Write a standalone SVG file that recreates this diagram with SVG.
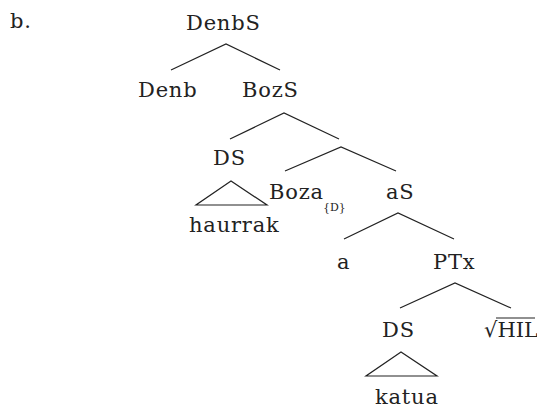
<svg xmlns="http://www.w3.org/2000/svg" width="537" height="404" viewBox="0 0 537 404">
<style>
text{font-family:"DejaVu Serif","Liberation Serif",serif;font-size:21px;fill:#222;letter-spacing:0.8px}
.sub{font-size:11px;letter-spacing:0}
line,polygon,polyline{stroke:#222;stroke-width:1.2;fill:none}
</style>
<rect width="537" height="404" fill="#fff"/>
<text x="10" y="28">b.</text>
<g id="n-DenbS"><text x="186" y="30">DenbS</text></g>
<g id="n-Denb"><text x="138" y="97">Denb</text></g>
<g id="n-BozS"><text x="242" y="97">BozS</text></g>
<g id="n-DS1"><text x="213" y="165">DS</text><polygon points="231,181 196,205 267,205"/></g>
<g id="n-haurrak"><text x="189" y="232">haurrak</text></g>
<g id="n-Boza"><text x="269" y="199">Boza</text><text class="sub" x="323" y="211">{D}</text></g>
<g id="n-aS"><text x="386" y="199">aS</text></g>
<g id="n-a"><text x="337" y="269">a</text></g>
<g id="n-PTx"><text x="433" y="269">PTx</text></g>
<g id="n-DS2"><text x="382" y="337">DS</text><polygon points="401,352 366,376 437,376"/></g>
<g id="n-HIL"><text x="484" y="337" style="letter-spacing:0">√HIL</text><line x1="496" y1="318" x2="535" y2="318"/></g>
<g id="n-katua"><text x="375" y="404">katua</text></g>
<g id="connectors">
<polyline points="171,70 226,44 280,70"/>
<polyline points="230,139 284,113 339,139"/>
<polyline points="285,171 341,147 396,171"/>
<polyline points="344,239 398,213 454,239"/>
<polyline points="400,308 455,283 511,308"/>
</g>
</svg>
